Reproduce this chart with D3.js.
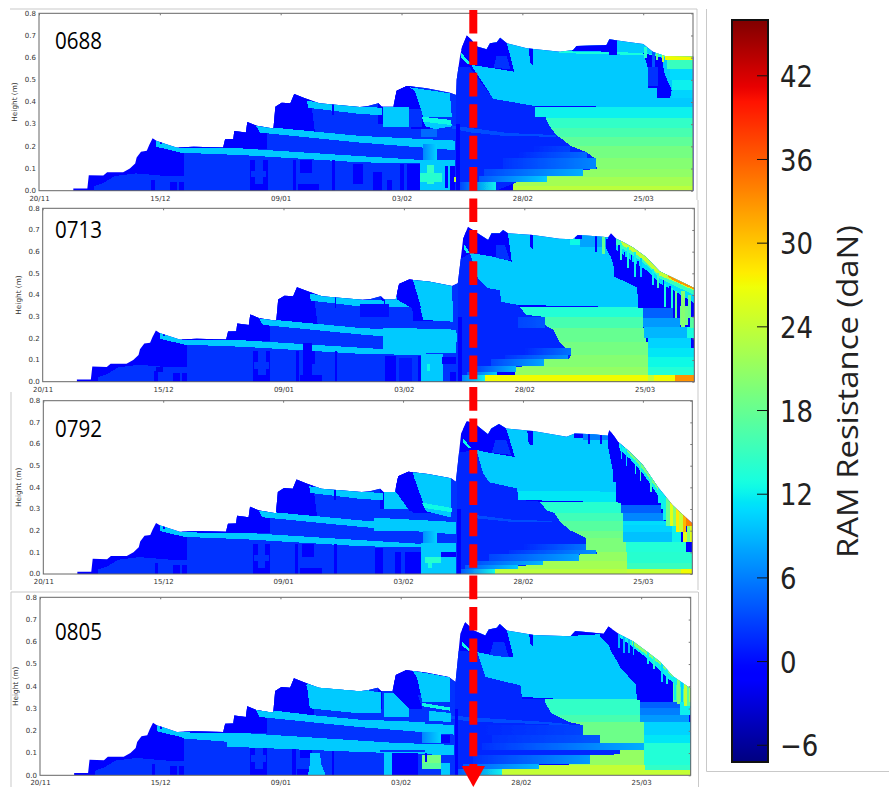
<!DOCTYPE html>
<html>
<head>
<meta charset="utf-8">
<script src="https://d3js.org/d3.v7.min.js"></script>
<style>
body { margin: 0; background: #fff; }
svg { display: block; }
</style>
</head>
<body>
<svg id="chart" width="889" height="787"></svg>
<script>
// days are counted from 20/11, heights in metres, layer values in daN
// a layer is [ value, [[day,height],...] ] or [ value, day0, day1, height0, height1 ]
// layers are painted in order and clipped to the snow surface of their panel
var xTickDays = [ 0, 25, 50, 75, 100, 125 ];
var xTickLabels = [ '20/11', '15/12', '09/01', '03/02', '28/02', '25/03' ];
var yTicks = [ 0, 0.1, 0.2, 0.3, 0.4, 0.5, 0.6, 0.7, 0.8 ];
var barTicks = [ -6, 0, 6, 12, 18, 24, 30, 36, 42 ];
var barDomain = [ -7.2, 46 ];

var surfaceEarly = [
    [7.1,0],[7.1,.01],[10,.01],[10.3,.07],[13.3,.068],[14.1,.083],[17.4,.083],[18.8,.1],[19.9,.123],
    [20.2,.15],[21.1,.176],[22.3,.18],[22.8,.206],[23.5,.236],[24.3,.225],[26.4,.21],[28.5,.195],
    [32,.198],[38.1,.195],[38.5,.232],[40.2,.233],[40.4,.269],[42.8,.262],[43.1,.31],[45,.293],
    [48.5,.281],[48.9,.379],[50.2,.397],[52,.394],[52.8,.436],[55,.417],[58,.394],[66.4,.378],
    [68.1,.382],[70.2,.394],[70.9,.379],[73.3,.379],[74,.451],[76.1,.472],[78.5,.466],[80.2,.462],[85,.442]
];

var surface0688 = [
    [86.3,.432],[86.4,.5],[87.1,.605],[87.5,.647],[88.5,.7],[89.5,.68],[90.6,.65],[92.6,.638],[93.3,.665],
    [94.7,.67],[95.4,.69],[96.8,.665],[100.9,.642],[107.8,.627],[110.5,.635],[111.2,.653],[117.4,.657],
    [118,.683],[121.5,.672],[125,.662],[127,.627],[129.5,.607],[135.4,.605],[135.4,0]
];
var surface0713 = [
    [86.2,.454],[87.3,.66],[88.3,.715],[90,.69],[92.5,.654],[93.2,.685],[94.9,.685],[95.6,.7],[96.6,.685],
    [101.8,.677],[107.3,.66],[110.1,.657],[111.1,.677],[114.2,.672],[117.4,.666],[118,.685],[119.1,.66],
    [120.5,.645],[122.5,.62],[125.3,.575],[128.1,.51],[130.9,.48],[135.3,.432],[135.3,0]
];
var surface0792 = [
    [86,.426],[87.1,.649],[88.3,.706],[90.3,.688],[92.7,.645],[93.4,.672],[95,.692],[96.5,.672],[102.1,.66],
    [109.1,.634],[110.8,.649],[114.6,.645],[117.7,.638],[118,.665],[119.1,.634],[119.8,.611],[122.2,.565],
    [125,.503],[128.1,.403],[131.2,.318],[135.3,.234],[135.3,0]
];
var surface0805 = [
    [86.4,.419],[87.4,.636],[88.4,.688],[90.2,.651],[92.6,.628],[93.3,.655],[95,.663],[95.6,.68],[97.1,.651],
    [102.7,.631],[110.3,.625],[111.3,.648],[117.2,.636],[118.2,.669],[120.3,.636],[123.4,.601],[126.2,.556],
    [128.9,.511],[131.7,.444],[135.3,.39],[135.3,0]
];

var layersEarly = [
    [-0.5, 0,136,0,.8],
    [2, [[11.4,0],[11.4,.02],[13.3,.035],[15.7,.066],[20,.078],[26.5,.066],[29.9,.066],[29.9,0]]],
    [2, 29.9,86.3,0,.6],
    [-0.5, 29,47.2,.19,.45],
    [-0.5, [[48.3,.281],[48.3,.45],[56,.45],[57.1,.263]]],
    [-0.5, [[73.5,.375],[73.5,.5],[77.3,.5],[81,.28],[77,.28],[76.6,.37]]],
    [-0.5, 70.2,71.1,.3,.42],
    [10, [[24.3,.226],[28.5,.195],[32.6,.191],[41.6,.191],[66.4,.156],[79.5,.138],[79.5,.123],[66.4,.128],[41.6,.161],[29.5,.171],[24.3,.198]]],
    [10, [[44.9,.292],[66.4,.247],[86,.226],[86,.183],[66.4,.217],[45.7,.262]]],
    [10, [[55.4,.405],[66.4,.379],[70.9,.374],[70.9,.341],[66.4,.346],[55.7,.374]]],
    [-0.5, 25,25.4,.21,.22],
    [-0.5, 27,28.5,0,.04],
    [-0.5, 29,29.9,0,.04],
    [-0.5, 23.2,23.9,0,.05],
    [-0.5, 43.7,47.3,0,.14],
    [2, 44.7,46.3,.03,.14],
    [2, 43.9,47,.06,.09],
    [-0.5, 52.5,53.2,0,.14],
    [-0.5, 54,56.5,.08,.14],
    [-0.5, 53.5,58,0,.03],
    [-0.5, 60.7,61.2,0,.14],
    [-0.5, 60.7,61,.34,.39]
];

var layers0688 = [
    [10, [[89.2,.574],[94,.414],[102.6,.382],[135.4,.376],[135.4,.7],[89.2,.7]]],
    [12, 98,135.4,.326,.376],
    [14.5, 98,135.4,.281,.326],
    [16, 98,135.4,.244,.281],
    [17.5, 98,135.4,.2,.244],
    [19, 98,135.4,.146,.2],
    [20, 98,135.4,.098,.146],
    [20.8, 98,135.4,.063,.098],
    [22, 98,135.4,.023,.063],
    [23.5, 98,135.4,0,.023],
    [1.5, [[86.3,0],[86.3,.56],[89,.56],[94,.414],[102.6,.382],[102.6,.334],[104.7,.334],[105.7,.289],[107,.251],[108.5,.229],[109.9,.203],[113.3,.173],[115,.146],[115.4,.098],[112.6,.093],[112.6,.068],[105,.068],[105,.041],[99.2,.041],[94.5,0]]],
    [3.5, [[85.4,.295],[89.2,.283],[97,.26],[107,.251],[107,.244],[97,.245],[89.2,.263],[85.4,.28]]],
    [-0.5, [[86.8,.72],[95.6,.75],[96.8,.665],[98.3,.537],[94,.552],[89.5,.567],[87.5,.62]]],
    [2, [[94,.552],[94.7,.61],[96.8,.605],[97.5,.55]]],
    [12.5, [[87.4,.62],[89.5,.57],[88.7,.57],[87.4,.6]]],
    [-0.5, [[101.3,.65],[102.3,.65],[102.3,.56],[101.6,.58]]],
    [13, [[107.5,.628],[118,.627],[125,.62],[135.4,.605],[135.4,.59],[125,.61],[118,.616],[107.5,.62]]],
    [-0.5, [[110.3,.63],[111.2,.7],[119.5,.7],[119.5,.612],[118,.612],[118,.627]]],
    [-0.5, [[125,.62],[125.9,.559],[126,.462],[127.9,.462],[127.9,.42],[130.6,.42],[130.9,.454],[129.5,.522],[128.8,.6]]],
    [2, 126,128,.47,.56],
    [14, 125.2,125.8,.6,.65],
    [4, 126.8,127.4,.56,.64],
    [18, 127.6,128.1,.59,.64],
    [24, 128.8,129.3,.58,.63],
    [27, 129.5,135.4,.589,.61],
    [15, 130,135.4,.549,.589],
    [10.8, 130.5,135.4,.499,.549],
    [12, 131,135.4,.454,.499],
    [10.5, 131,135.4,.416,.454],
    // between 03/02 and the peak
    [10, 71.2,76.6,.289,.376],
    [2, 76.6,79.3,.289,.37],
    [-0.5, [[73.5,.376],[73.7,.46],[76.6,.49],[78.7,.38],[76.6,.376]]],
    [10, [[76.8,.466],[85,.439],[85.4,.333],[79.5,.333],[77.8,.446]]],
    [12.5, [[79.2,.334],[85.2,.319],[85.4,.296],[79.5,.311]]],
    [10, [[79.5,.311],[85.4,.296],[85.4,.29],[82,.278],[80,.29]]],
    [5, 79,82.4,.24,.28],
    [10, 78.8,86.1,0,.138],
    [14.5, 80.2,81.8,.03,.116],
    [14, 78.9,83.3,.04,.078],
    [-0.5, 85,86.1,0,.11],
    [24, 85.9,86.2,.04,.06],
    [-0.5, 69,70.9,0,.085],
    [-0.5, 72,73,0,.05],
    [-0.5, 74.7,75.5,0,.12],
    [-0.5, 76.2,78.8,0,.12],
    [-0.5, 65,67,.03,.12],
    [-0.5, 84,84.6,.01,.11],
    [-0.5, 86.3,87,0,.3]
];
var fades0688 = [
    [.14,.21,79.5,82.4,6.5,10.5],
    [.173,.203,102,109.9,1.5,3],
    [.146,.173,99,113.3,1.5,5],
    [.098,.146,96,115.2,2,6.5],
    [.068,.098,92,112.6,3,8.5],
    [.041,.068,91,105,4,10],
    [0,.041,87,94.5,3,12]
];

var layers0713 = [
    [10, [[88.7,.592],[90.4,.477],[92.5,.431],[94.9,.423],[95.2,.369],[98.7,.354],[124.6,.343],[123.6,.369],[123.4,.446],[121.2,.469],[118.7,.523],[117.4,.615],[117.4,.7],[88.7,.7]]],
    [13.5, 98,124.6,.3,.343],
    [16, 98,124.6,.246,.3],
    [18, 98,125.2,.185,.246],
    [19, 98,125.6,.123,.185],
    [20, 98,125.6,.069,.123],
    [21, 98,125.6,.031,.069],
    [1.5, [[86.3,0],[86.3,.56],[88.7,.592],[90.4,.477],[92.5,.431],[94.9,.423],[95.2,.369],[98.7,.354],[100.4,.308],[103.9,.3],[104.2,.262],[106.1,.238],[107.3,.185],[108.7,.154],[109.8,.123],[109.1,.103],[104,.103],[104,.074],[98.3,.069],[98.3,.046],[94.3,.046],[91.8,.031],[90.7,0]]],
    [27, 90,125.6,0,.031],
    [-0.5, [[87,.69],[95.6,.75],[96.6,.685],[97.4,.554],[93.5,.577],[89.4,.592],[87.6,.631]]],
    [2, [[94.2,.63],[96,.63],[97,.56],[94.2,.57]]],
    [12, [[87.4,.638],[88.8,.592],[88.1,.592],[87.4,.615]]],
    [-0.5, [[101.1,.68],[101.9,.68],[101.9,.61],[101.3,.62]]],
    [12.5, 109.5,111.5,.63,.66],
    [8, 111.5,117,.62,.7],
    [-0.5, 110.6,112,.66,.7],
    [-0.5, 114.6,115,.6,.7],
    [18, 116.2,116.8,.59,.7],
    [-0.5, [[117,.66],[130,.66],[135.3,.46],[135.3,.34],[131,.338],[123.6,.342],[123.6,.431],[122.5,.446],[118.6,.485],[118.6,.554],[117.7,.585],[117,.615]]],
    [4.5, 124.6,130.9,.292,.338],
    [7.5, 124.6,132.4,.254,.292],
    [9, 124.9,133.7,.2,.254],
    [10.5, 125.6,134.7,.157,.2],
    [11.5, 125.6,135.3,.115,.157],
    [12.5, 125.6,135.3,.069,.115],
    [13.5, 125.6,135.3,.031,.069],
    [24, 125.6,127,0,.031],
    [27, 127,131.2,0,.031],
    [33, 131.2,135.3,0,.031],
    [19, 132.4,134,.26,.35],
    [13, 133.7,135.3,.2,.254],
    [17, 134.5,135.3,.25,.3],
    // coloured strip under the surface
    [11, [[119.1,.67],[122.5,.63],[125.3,.59],[128.1,.52],[130.9,.49],[135.3,.44],[135.3,.362],[130.9,.423],[128.1,.454],[125.3,.515],[122.5,.554],[119.1,.608]]],
    [15, [[119.1,.67],[122.5,.63],[125.3,.59],[128.1,.52],[130.9,.49],[135.3,.44],[135.3,.4],[130.9,.446],[128.1,.477],[125.3,.538],[122.5,.585],[119.1,.631]]],
    [24, [[120,.66],[122.5,.63],[125.3,.59],[128.1,.52],[130.9,.49],[135.3,.44],[135.3,.42],[130.9,.465],[128.1,.489],[125.3,.551],[122.5,.6],[120,.635]]],
    [33, [[129.8,.5],[135.3,.44],[135.3,.425],[130.9,.468],[129.8,.485]]],
    [14, 119.9,120.3,.562,.64],
    [13, 121.3,121.7,.523,.62],
    [12, 122.7,123.1,.485,.6],
    [10, 124.1,124.5,.485,.57],
    [12, 126.5,126.9,.446,.52],
    [15, 127.5,127.9,.431,.5],
    [13, 129.1,129.5,.346,.45],
    [13, 130.4,130.8,.338,.43],
    [18, 131.2,131.8,.292,.42],
    [20, 132.6,133.3,.254,.42],
    [18, 134,134.6,.292,.4],
    [-0.5, 119.5,119.8,.575,.63],
    [-0.5, 120.7,121,.55,.6],
    [-0.5, 122.1,122.4,.52,.585],
    [-0.5, 123.5,123.8,.49,.555],
    [-0.5, 128.9,129.1,.36,.47],
    [-0.5, 130.1,130.4,.36,.44],
    // between 03/02 and the peak
    [10, 71,76.6,.343,.389],
    [10, [[76.6,.485],[85,.46],[85.2,.277],[79,.285],[77.3,.44]]],
    [-0.5, [[73.5,.38],[73.7,.46],[76.6,.49],[78.6,.34],[76.6,.34]]],
    [10, [[70.7,.25],[85.9,.24],[85.9,.13],[70.7,.14]]],
    [10, 78.6,83.1,0,.13],
    [12.5, 79.9,80.5,.05,.08],
    [-0.5, 83,85.9,.08,.115],
    [-0.5, 84.6,85.9,0,.045],
    [-0.5, 71,73.4,0,.12],
    [0.5, 73.9,76.6,0,.11],
    [-0.5, 78,78.6,0,.12],
    [0.3, 65.8,72,.3,.36],
    [-0.5, 86.3,87,0,.3],
    [-2, 23.5,25,.045,.07],
    [-0.5, 54,56,0,.18]
];
var fades0713 = [
    [.246,.3,98.7,104.2,3,4],
    [.123,.155,100,109.8,1.5,5.5],
    [.103,.123,96,109.1,2,7],
    [.074,.103,93,104,3,8],
    [.046,.074,90,98.3,3,9],
    [.031,.046,88,94.3,4,10],
    [0,.031,87,91.8,6,12]
];

var layers0792 = [
    [10, [[90.3,.572],[91.7,.465],[93,.423],[98.8,.395],[99,.342],[119.4,.331],[119.4,.418],[118.4,.511],[117.7,.595],[117.7,.7],[90.3,.7]]],
    [11.5, [[99,.385],[119.4,.38],[119.4,.331],[99,.342]]],
    [14, 103,120.5,.283,.332],
    [15.5, 103,120.8,.245,.283],
    [17, 103,120.8,.2,.245],
    [18.5, 103,121,.165,.2],
    [19.5, 98,121.5,.103,.165],
    [21, 98,121.6,.062,.103],
    [22, 95,121.6,.023,.062],
    [23.5, 93,121.6,0,.023],
    [1.5, [[86.3,0],[86.3,.56],[90.3,.572],[91.7,.465],[93,.423],[98.8,.395],[99,.342],[103.5,.334],[104.9,.295],[106.6,.28],[107.6,.245],[109.7,.203],[113.2,.165],[113.2,.111],[115.3,.103],[115.4,.091],[111.8,.091],[111.5,.065],[104.2,.062],[104.2,.042],[99,.038],[94.1,.023],[94.1,0]]],
    [3.5, [[89,.275],[98,.25],[106,.245],[106,.24],[98,.24],[89,.26]]],
    [-0.5, [[87,.7],[95,.72],[96.5,.672],[98.3,.54],[93,.56],[90.3,.572],[88,.63]]],
    [2, [[93.5,.56],[94.3,.62],[96.5,.62],[97.5,.55]]],
    [12.5, [[87.5,.626],[89.2,.583],[88.5,.583],[87.5,.608]]],
    [-0.5, [[100.9,.66],[102,.66],[102,.595],[101.2,.6]]],
    [-0.5, 110.6,112.5,.63,.66],
    [6, 112.5,117.7,.62,.7],
    [-0.5, 113.5,114,.6,.7],
    [-0.5, 116,116.4,.6,.7],
    [-0.5, [[117.7,.66],[125,.6],[128.1,.42],[128.8,.318],[119.8,.326],[119.8,.426],[118.8,.426],[118.8,.511],[117.7,.595]]],
    [4.5, 120.5,128.8,.283,.318],
    [6.5, 120.8,129.5,.245,.283],
    [11, 120.8,130.5,.226,.245],
    [10.5, 120.8,131,.195,.226],
    [9.5, 120.8,131,.149,.195],
    [12, 131,133,.149,.226],
    [13.5, 121.5,134,.103,.149],
    [14, 121.6,135.3,.049,.103],
    [15, 121.6,135.3,.023,.049],
    [24, 121.6,133,0,.023],
    [27, 133,135.3,0,.023],
    // coloured strip under the surface
    [12, [[119.8,.63],[122.2,.58],[125,.52],[128.1,.42],[128.1,.365],[125,.465],[122.2,.534],[120.2,.572]]],
    [19, [[119.8,.63],[122.2,.58],[125,.52],[128.1,.42],[128.1,.388],[125,.483],[122.2,.552]]],
    [11, 120.4,120.7,.53,.6],
    [11, 121.4,121.7,.5,.58],
    [13, 123.3,123.6,.46,.53],
    [15, 124.3,124.6,.43,.52],
    [15, 126.5,126.9,.38,.48],
    [12, 128.1,128.8,.33,.42],
    [12, 128.8,129.2,.3,.4],
    [12, 129.2,129.9,.249,.5],
    [18, 129.9,130.6,.22,.5],
    [26, 130.6,131.2,.22,.5],
    [20, 131.2,131.9,.22,.5],
    [28, 131.9,132.6,.195,.5],
    [24, 132.6,133.3,.195,.5],
    [31, 133.3,134,.195,.5],
    [34, 134,135.4,.22,.5],
    [26, 133.3,134.2,.15,.195],
    [20, 134.2,134.8,.15,.22],
    [26, 134.8,135.4,.15,.22],
    // between 03/02 and the peak
    [10, 71,76.3,.3,.38],
    [10, [[76.8,.485],[85,.45],[85.1,.26],[79.8,.29],[77.4,.44]]],
    [-0.5, [[73.5,.38],[73.7,.46],[76.6,.49],[78.8,.29],[76.4,.29]]],
    [12.5, [[78.8,.33],[85.1,.305],[85.1,.285],[79.5,.305]]],
    [10, [[69,.26],[86,.24],[86,.2],[69,.2]]],
    [10, 78.8,86,0,.142],
    [14, 79.5,82.9,.05,.077],
    [13, 80.2,81,.03,.05],
    [-0.5, 83,86,.08,.1],
    [-0.5, 69.2,70.9,0,.12],
    [-0.5, 73.3,74.6,0,.1],
    [-0.5, 75.4,78.8,0,.1],
    [-0.5, 86.3,87,0,.3]
];
var fades0792 = [
    [.142,.2,79.1,82.1,7,10.5],
    [.111,.14,100,113.2,1.5,5.5],
    [.091,.111,97,115.3,2,7],
    [.062,.091,93,111.6,3,8],
    [.042,.062,90,104.2,3.5,9],
    [.022,.042,88,99,4,10],
    [0,.022,87,94.1,4,12.5]
];

var layers0805 = [
    // wider bands of this profile, on top of the early ones
    [10, [[55.4,.42],[66.5,.39],[70.9,.37],[70.9,.28],[66.5,.278],[56.1,.301]]],
    [10, [[45,.3],[56.8,.27],[66.5,.25],[80,.24],[80,.2],[66.5,.218],[56.8,.25],[45.7,.263]]],
    [10, [[28.7,.192],[40.9,.186],[66.5,.151],[86,.137],[86,.09],[66.5,.105],[38.8,.129],[38.8,.151],[29.6,.166]]],
    [10, [[56.1,.1],[58.2,.1],[58.5,.05],[59.4,0],[55.7,0],[56.1,.05]]],
    [10, [[90.9,.554],[92.6,.442],[99.9,.404],[100.2,.352],[106.8,.345],[124.5,.334],[124,.404],[120.6,.487],[118.2,.584],[116.5,.621],[116.5,.7],[90.9,.7]]],
    [14.5, 105,124.8,.271,.345],
    [16, 105,124.8,.241,.271],
    [18.5, 105,125.5,.144,.241],
    [21, 110,125.5,.046,.113],
    [24, 96,125.8,0,.046],
    [1.5, [[86.3,0],[86.3,.56],[90.9,.554],[92.6,.442],[99.9,.404],[100.2,.345],[105.1,.345],[105.1,.323],[106.4,.278],[109.9,.24],[113,.225],[113,.18],[116.5,.18],[116.5,.146],[125.5,.146],[125.5,.113],[120.6,.113],[120.6,.094],[114.4,.091],[114.4,.049],[103.7,.049],[103.7,.027],[96,.027],[96,0]]],
    [3.5, [[85,.27],[90,.26],[105,.24],[110,.23],[110,.22],[105,.23],[90,.24],[85,.255]]],
    [-0.5, [[87.2,.7],[95.6,.7],[97.1,.651],[98.5,.53],[94,.54],[90.9,.554],[89,.6],[87.8,.64]]],
    [2, [[93.5,.54],[94.3,.6],[96.5,.6],[97.5,.53]]],
    [12.5, [[87.7,.6],[89.8,.56],[89,.56],[87.7,.585]]],
    [-0.5, [[101.6,.65],[102.6,.65],[102.6,.58],[102,.59]]],
    [-0.5, [[110.2,.626],[111,.66],[119,.68],[119,.62],[117,.635]]],
    [-0.5, [[117.9,.66],[120.3,.63],[123.4,.595],[128.9,.49],[131.7,.414],[131.4,.331],[124.1,.339],[123.8,.451],[120.7,.496],[119.6,.526],[118.6,.564],[117.9,.609]]],
    [4.5, 124.8,133.1,.301,.331],
    [6, 124.8,133.8,.271,.301],
    [7.5, 124.8,134.9,.241,.271],
    [10.5, 125.5,135.3,.181,.241],
    [11.5, 125.5,135.3,.144,.181],
    [13.5, 125.5,135.3,.046,.144],
    [14.5, 125.8,135.3,.024,.046],
    [24, 125.8,135.3,0,.024],
    [17, 131.7,135.4,.33,.46],
    [12, 133,135.4,.27,.33],
    // coloured strip under the surface
    [12, [[120.3,.65],[126.2,.57],[131.7,.46],[135.3,.41],[135.3,.37],[131.7,.414],[126,.53],[120.3,.625]]],
    [20, [[123,.62],[128.9,.53],[131.7,.46],[131.7,.44],[128.9,.5],[123,.59]]],
    [9, 120.2,120.6,.57,.7],
    [9, 121.2,121.6,.55,.7],
    [9, 122.2,122.6,.55,.7],
    [10, 123.2,123.6,.54,.7],
    [12, 126.3,126.7,.5,.7],
    [14, 127.4,127.8,.48,.7],
    [11, 129.1,129.5,.42,.7],
    [12, 130.1,130.5,.41,.7],
    [12, 131.8,132.3,.34,.7],
    [20, 132.5,133,.32,.7],
    [10, 133.2,133.6,.33,.7],
    [24, 134,134.5,.31,.7],
    [17, 134.5,135.3,.31,.7],
    [22, 134.9,135.3,.33,.7],
    // between 03/02 and the peak
    [10, 66.6,70.8,.28,.37],
    [10, 71.5,76.7,.263,.37],
    [2, 76.7,80.9,.24,.36],
    [-0.5, [[73.5,.37],[73.7,.46],[76.6,.49],[79.5,.3],[76.7,.3]]],
    [10, [[77.4,.47],[85.3,.44],[85.3,.33],[79.5,.33],[78.4,.44]]],
    [12.5, [[79.5,.325],[85.3,.305],[85.3,.29],[79.5,.31]]],
    [10, [[80.9,.29],[85.4,.28],[85.4,.24],[80.9,.245]]],
    [-0.5, 83.3,85.3,.143,.18],
    [2, 70.7,80,.105,.115],
    [10, 71.5,73.2,0,.1],
    [-0.5, 73.2,78.5,0,.1],
    [19, 79.5,83.3,.054,.09],
    [17, 79.5,83.3,.027,.054],
    [2, 83.3,85.3,.054,.09],
    [10, 83.3,85.3,0,.054],
    [-0.5, 80,80.4,.06,.1],
    [-0.5, 86.3,87,0,.3]
];
var fades0805 = [
    [.143,.196,79.5,83.3,6.5,10.5],
    [.18,.225,92,113,1.5,3],
    [.146,.18,94,116.5,2,4],
    [.113,.146,92,125.5,2,8.5],
    [.049,.091,90,114.4,2,7.5],
    [.027,.049,88,103.7,4,9],
    [0,.027,87,96,4,12]
];

var panels = [
    { name: '0688', surface: surface0688, layers: layers0688, fades: fades0688,
      left: 39, right: 693, top: 13.3, bottom: 190.7, titleY: 49, labelX: 17 },
    { name: '0713', surface: surface0713, layers: layers0713, fades: fades0713,
      left: 42.7, right: 694.3, top: 208.3, bottom: 381.7, titleY: 237.5, labelX: 21 },
    { name: '0792', surface: surface0792, layers: layers0792, fades: fades0792,
      left: 43.3, right: 692.3, top: 400.7, bottom: 574, titleY: 437, labelX: 21 },
    { name: '0805', surface: surface0805, layers: layers0805, fades: fades0805,
      left: 40, right: 690.7, top: 597.3, bottom: 775.3, titleY: 639.5, labelX: 18 }
];

var svg = d3.select( '#chart' ),
    defs = svg.append( 'defs' ),
    tickColor = '#333',
    frameColor = '#c9c9c9';

// the source is an enlarged screenshot, so everything in the panels is slightly soft
defs.append( 'filter' ).attr( 'id', 'soft' )
    .attr( 'x', '-2%' ).attr( 'y', '-2%' ).attr( 'width', '104%' ).attr( 'height', '104%' )
    .append( 'feGaussianBlur' ).attr( 'stdDeviation', 0.45 );

var jetRed = d3.scaleLinear().domain( [0,.35,.66,.89,1] ).range( [0,0,1,1,.5] ),
    jetGreen = d3.scaleLinear().domain( [0,.125,.375,.64,.91,1] ).range( [0,0,1,1,0,0] ),
    jetBlue = d3.scaleLinear().domain( [0,.11,.34,.65,1] ).range( [.5,1,1,0,0] ),
    barNorm = d3.scaleLinear().domain( barDomain ).range( [0,1] ).clamp( true );

function jet( value ){
    var t = barNorm( value );

    return d3.rgb( jetRed(t) * 255, jetGreen(t) * 255, jetBlue(t) * 255 ).formatHex();
}

function layerPoints( layer ){
    if ( Array.isArray(layer[1]) ){
        return layer[1];
    }

    return [
        [ layer[1], layer[3] ],
        [ layer[2], layer[3] ],
        [ layer[2], layer[4] ],
        [ layer[1], layer[4] ]
    ];
}

function drawPanel( panel, idx ){
    var x = d3.scaleLinear().domain( [0,135.3] ).range( [panel.left,panel.right] ),
        y = d3.scaleLinear().domain( [0,.8] ).range( [panel.bottom,panel.top] ),
        line = d3.line().x( function( d ){ return x(d[0]); } ).y( function( d ){ return y(d[1]); } ),
        clipId = 'surface-' + panel.name,
        $g = svg.append( 'g' ).attr( 'class', 'panel' ),
        $soft = $g.append( 'g' ).attr( 'filter', 'url(#soft)' ),
        $marks;

    defs.append( 'clipPath' ).attr( 'id', clipId )
        .append( 'path' )
        .attr( 'd', line( surfaceEarly.concat(panel.surface) ) + 'Z' );

    $marks = $soft.append( 'g' ).attr( 'clip-path', 'url(#' + clipId + ')' );

    $marks.selectAll( 'path.early' )
        .data( layersEarly )
        .enter().append( 'path' )
        .attr( 'class', 'early' )
        .attr( 'd', function( d ){ return line( layerPoints(d) ) + 'Z'; } )
        .attr( 'fill', function( d ){ return jet( d[0] ); } )
        .attr( 'shape-rendering', 'crispEdges' );

    $marks.selectAll( 'path.layer' )
        .data( panel.layers )
        .enter().append( 'path' )
        .attr( 'class', 'layer' )
        .attr( 'd', function( d ){ return line( layerPoints(d) ) + 'Z'; } )
        .attr( 'fill', function( d ){ return jet( d[0] ); } )
        .attr( 'shape-rendering', 'crispEdges' );

    // rows that change colour from day to day: [ h0, h1, d0, d1, v0, v1 ]
    panel.fades.forEach( function( f, i ){
        var id = 'fade-' + idx + '-' + i,
            $grad = defs.append( 'linearGradient' ).attr( 'id', id );

        $grad.append( 'stop' ).attr( 'offset', 0 ).attr( 'stop-color', jet( f[4] ) );
        $grad.append( 'stop' ).attr( 'offset', 1 ).attr( 'stop-color', jet( f[5] ) );

        $marks.append( 'rect' )
            .attr( 'x', x(f[2]) )
            .attr( 'y', y(f[1]) )
            .attr( 'width', x(f[3]) - x(f[2]) )
            .attr( 'height', y(f[0]) - y(f[1]) )
            .attr( 'fill', 'url(#' + id + ')' )
            .attr( 'shape-rendering', 'crispEdges' );
    });

    $g.append( 'rect' )
        .attr( 'x', panel.left )
        .attr( 'y', panel.top )
        .attr( 'width', panel.right - panel.left )
        .attr( 'height', panel.bottom - panel.top )
        .attr( 'fill', 'none' )
        .attr( 'stroke', '#666' );

    var $bottom = $g.append( 'g' )
        .attr( 'transform', 'translate(0,' + panel.bottom + ')' )
        .call( d3.axisBottom(x).tickValues(xTickDays).tickSize(0).tickPadding(5)
            .tickFormat( function( d, i ){ return xTickLabels[i]; } ) );
    var $left = $g.append( 'g' )
        .attr( 'transform', 'translate(' + panel.left + ',0)' )
        .call( d3.axisLeft(y).tickValues(yTicks).tickSize(0).tickPadding(3).tickFormat( d3.format('.1f') ) );
    var $top = $g.append( 'g' )
        .attr( 'transform', 'translate(0,' + panel.top + ')' )
        .call( d3.axisTop(x).tickValues(xTickDays).tickSize(-2).tickFormat('') );
    var $right = $g.append( 'g' )
        .attr( 'transform', 'translate(' + panel.right + ',0)' )
        .call( d3.axisRight(y).tickValues(yTicks).tickSize(-2).tickFormat('') );

    [ $bottom, $left, $top, $right ].forEach( function( $axis ){
        $axis.select( '.domain' ).remove();
        $axis.selectAll( 'line' ).attr( 'stroke', '#777' );
        $axis.selectAll( 'text' )
            .attr( 'fill', tickColor )
            .style( 'font-family', '"DejaVu Sans"' )
            .style( 'font-size', '7px' );
    });
    $left.selectAll( 'text' ).attr( 'dy', '0.25em' );

    $g.append( 'text' )
        .attr( 'transform', 'translate(' + panel.labelX + ',' + y(.4) + ') rotate(-90)' )
        .attr( 'text-anchor', 'middle' )
        .attr( 'fill', tickColor )
        .style( 'font-family', '"DejaVu Sans"' )
        .style( 'font-size', '7.3px' )
        .text( 'Height (m)' );

    $g.append( 'text' )
        .attr( 'x', 55 )
        .attr( 'y', panel.titleY )
        .attr( 'textLength', 47 )
        .attr( 'lengthAdjust', 'spacingAndGlyphs' )
        .attr( 'fill', '#000' )
        .style( 'font-family', '"Open Sans"' )
        .style( 'font-size', '23px' )
        .text( panel.name );
}

function drawFrames(){
    var frames = [
        [ [10,9], [697,9] ],
        [ [697,9], [697,200] ],
        [ [698,200], [698,590] ],
        [ [11,392], [11,590] ],
        [ [11,592], [698,592] ],
        [ [11,592], [11,787] ],
        [ [698.5,592], [698.5,787] ],
        [ [706.5,9], [706.5,771.5] ],
        [ [706.5,771.5], [889,771.5] ]
    ];

    svg.append( 'g' ).selectAll( 'line' )
        .data( frames )
        .enter().append( 'line' )
        .attr( 'x1', function( d ){ return d[0][0]; } )
        .attr( 'y1', function( d ){ return d[0][1]; } )
        .attr( 'x2', function( d ){ return d[1][0]; } )
        .attr( 'y2', function( d ){ return d[1][1]; } )
        .attr( 'stroke', frameColor );
}

function drawArrow(){
    svg.append( 'line' )
        .attr( 'x1', 473.3 )
        .attr( 'x2', 473.3 )
        .attr( 'y1', 10 )
        .attr( 'y2', 768 )
        .attr( 'stroke', '#ff0000' )
        .attr( 'stroke-width', 8 )
        .attr( 'stroke-dasharray', '23.6 7.82' );

    svg.append( 'path' )
        .attr( 'd', 'M461.7,766L485,766L473.3,787Z' )
        .attr( 'fill', '#ff0000' );
}

function drawColorbar(){
    var left = 732,
        right = 768,
        y = d3.scaleLinear().domain( barDomain ).range( [762,20] ),
        $bar = svg.append( 'g' ).attr( 'class', 'colorbar' ),
        $grad = defs.append( 'linearGradient' )
            .attr( 'id', 'jet' )
            .attr( 'x1', 0 ).attr( 'x2', 0 )
            .attr( 'y1', 1 ).attr( 'y2', 0 );

    d3.range( 0, 1.001, 0.01 ).forEach( function( t ){
        $grad.append( 'stop' )
            .attr( 'offset', t )
            .attr( 'stop-color', jet( barDomain[0] + t * (barDomain[1] - barDomain[0]) ) );
    });

    $bar.append( 'rect' )
        .attr( 'x', left )
        .attr( 'y', y(barDomain[1]) )
        .attr( 'width', right - left )
        .attr( 'height', y(barDomain[0]) - y(barDomain[1]) )
        .attr( 'fill', 'url(#jet)' )
        .attr( 'stroke', '#111' )
        .attr( 'stroke-width', 2 );

    var $ticks = $bar.selectAll( 'g.tick' )
        .data( barTicks )
        .enter().append( 'g' )
        .attr( 'class', 'tick' )
        .attr( 'transform', function( d ){ return 'translate(0,' + y(d) + ')'; } );

    $ticks.append( 'line' )
        .attr( 'x1', right - 11 )
        .attr( 'x2', right )
        .attr( 'stroke', '#111' );

    $ticks.append( 'text' )
        .attr( 'transform', 'translate(780,0) scale(1,1.15)' )
        .attr( 'dy', '0.37em' )
        .attr( 'fill', '#222' )
        .style( 'font-family', '"DejaVu Sans"' )
        .style( 'font-size', '26px' )
        .text( function( d ){ return d < 0 ? '\u2212' + (-d) : d; } );

    $bar.append( 'text' )
        .attr( 'transform', 'translate(858,391.5) rotate(-90)' )
        .attr( 'text-anchor', 'middle' )
        .attr( 'textLength', 333 )
        .attr( 'lengthAdjust', 'spacingAndGlyphs' )
        .attr( 'fill', '#222' )
        .style( 'font-family', '"Open Sans"' )
        .style( 'font-size', '30px' )
        .text( 'RAM Resistance (daN)' );
}

drawFrames();
panels.forEach( drawPanel );
drawColorbar();
drawArrow();
</script>
</body>
</html>
